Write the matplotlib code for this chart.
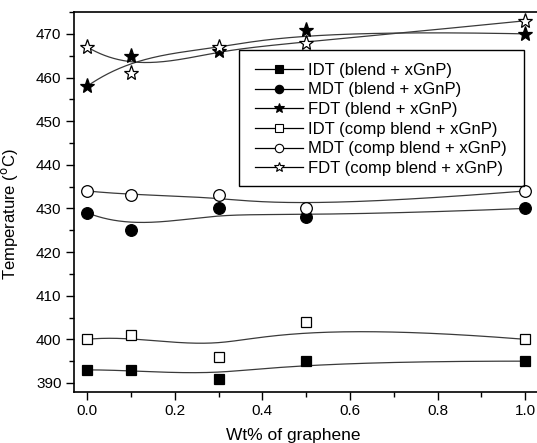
import numpy as np
import matplotlib.pyplot as plt
from matplotlib.ticker import MultipleLocator
from matplotlib.patches import Rectangle

plt.rcParams['font.family'] = ['Liberation Sans', 'DejaVu Sans']

# данные
wt = [0.0, 0.1, 0.3, 0.5, 1.0]
idt_blend = [393, 393, 391, 395, 395]
mdt_blend = [429, 425, 430, 428, 430]
fdt_blend = [458, 465, 466, 471, 470]
idt_comp = [400, 401, 396, 404, 400]
mdt_comp = [434, 433, 433, 430, 434]
fdt_comp = [467, 461, 467, 468, 473]
labels = ['IDT (blend + xGnP)', 'MDT (blend + xGnP)', 'FDT (blend + xGnP)',
          'IDT (comp blend + xGnP)', 'MDT (comp blend + xGnP)', 'FDT (comp blend + xGnP)']


# кубический B-сплайн (как в Origin), точки данных - контрольные
def bspline(px, py, n=300):
    P = np.column_stack([px, py]).astype(float)
    k = 3
    m = len(P)
    knots = np.concatenate([np.zeros(k), np.linspace(0, 1, m - k + 1), np.ones(k)])
    u = np.linspace(0, 1 - 1e-9, n)
    out = []
    for t in u:
        j = np.searchsorted(knots, t, side='right') - 1
        j = min(max(j, k), m - 1)
        d = [P[j - k + i].copy() for i in range(k + 1)]
        for r in range(1, k + 1):
            for i in range(k, r - 1, -1):
                a = (t - knots[j - k + i]) / (knots[i + 1 + j - r] - knots[j - k + i])
                d[i] = (1 - a) * d[i - 1] + a * d[i]
        out.append(d[k])
    out.append(P[-1])
    out = np.array(out)
    return out[:, 0], out[:, 1]


fig = plt.figure(figsize=(5.37, 4.43), dpi=100)
ax = fig.add_axes([0.1378, 0.1158, 0.881, 0.857])

series = [idt_blend, mdt_blend, fdt_blend, idt_comp, mdt_comp, fdt_comp]
markers = ['s', 'o', '*', 's', 'o', '*']
sizes = [7.4, 8.4, 11, 7.4, 8.4, 11]
fills = ['black', 'black', 'black', 'white', 'white', 'white']

for ys, mk, ms, fc, lab in zip(series, markers, sizes, fills, labels):
    sx, sy = bspline(wt, ys)
    ax.plot(sx, sy, color='#3a3a3a', lw=0.9, zorder=1)
    ax.plot(wt, ys, linestyle='none', marker=mk, ms=ms, mfc=fc, mec='black',
            mew=0.9, zorder=2)
    # для легенды
    ax.plot([], [], color='black', lw=0.9, marker=mk, ms=ms * 0.72, mfc=fc,
            mec='black', mew=0.8, label=lab)

ax.set_xlim(-0.03, 1.05)
ax.set_ylim(388, 475)
ax.xaxis.set_major_locator(MultipleLocator(0.2))
ax.xaxis.set_minor_locator(MultipleLocator(0.1))
ax.yaxis.set_major_locator(MultipleLocator(10))
ax.yaxis.set_minor_locator(MultipleLocator(5))
ax.xaxis.set_major_formatter(plt.FuncFormatter(lambda v, p: f'{v:.1f}'))
ax.tick_params(which='both', direction='out', labelsize=11, width=1, pad=3)
ax.tick_params(which='major', length=6)
ax.tick_params(which='minor', length=3.5)
for s in ax.spines.values():
    s.set_linewidth(1.2)

ax.set_xlabel('Wt% of graphene', fontsize=12.5)
ax.set_ylabel(r'Temperature ($^{\rm o}$C)', fontsize=12)
ax.xaxis.set_label_coords(0.464, -0.095)
ax.yaxis.set_label_coords(-0.114, 0.468)

# легенда без рамки + рамка отдельно (в оригинале широкие поля)
leg = ax.legend(loc='center', bbox_to_anchor=(0.648, 0.717), fontsize=12,
                frameon=False, handlelength=2.9, handletextpad=0.3,
                labelspacing=0.28, borderpad=0.0)
ax.add_patch(Rectangle((0.349, 0.542), 0.602, 0.358, transform=ax.transAxes,
                       fill=False, edgecolor='black', lw=1.0, zorder=3))

plt.savefig('out.png', dpi=100)
